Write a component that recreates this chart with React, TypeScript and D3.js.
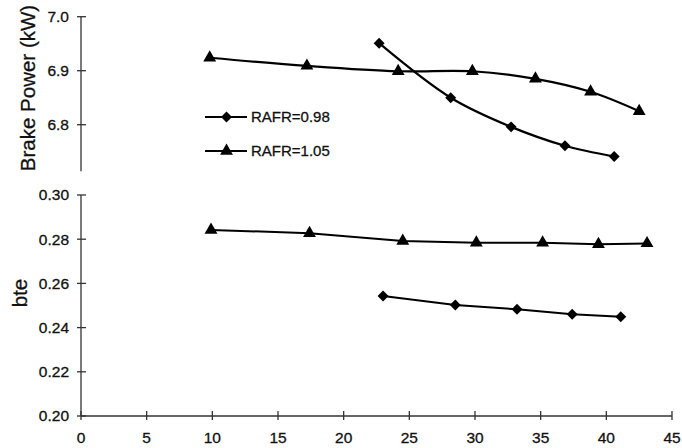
import React from "react";
import * as d3 from "d3";

const xTicks = [0, 5, 10, 15, 20, 25, 30, 35, 40, 45];
const bpTicks = [6.8, 6.9, 7.0];
const bteTicks = [0.2, 0.22, 0.24, 0.26, 0.28, 0.3];

const bpX098 = [22.7, 28.15, 32.75, 36.85, 40.6];
const bp098 = [6.951, 6.85, 6.796, 6.761, 6.741];
const bpX105 = [9.8, 17.2, 24.15, 29.8, 34.6, 38.8, 42.5];
const bp105 = [6.924, 6.909, 6.899, 6.899, 6.885, 6.861, 6.825];

const bteX098 = [23.0, 28.5, 33.2, 37.4, 41.1];
const bte098 = [0.2543, 0.2502, 0.2483, 0.246, 0.2449];
const bteX105 = [9.9, 17.4, 24.5, 30.1, 35.15, 39.4, 43.1];
const bte105 = [0.2842, 0.2827, 0.2792, 0.2784, 0.2784, 0.2777, 0.2781];

const legendLabels = ["RAFR=0.98", "RAFR=1.05"];
const bpAxisMin = 6.714;

const FONT = "Arial, 'Liberation Sans', Helvetica, sans-serif";

export default function App() {
  const W = 682, H = 448;
  const x = d3.scaleLinear().domain([0, 45]).range([81, 672]);
  const yTop = d3.scaleLinear().domain([6.7, 7.0]).range([178.7, 16.7]);
  const yBot = d3.scaleLinear().domain([0.2, 0.3]).range([416, 195]);

  const zip = (xs: number[], ys: number[]) => xs.map((v, i) => [v, ys[i]] as [number, number]);

  const lineTop = d3.line<[number, number]>().x(d => x(d[0])).y(d => yTop(d[1])).curve(d3.curveCatmullRom.alpha(0.5));
  const lineBot = d3.line<[number, number]>().x(d => x(d[0])).y(d => yBot(d[1]));

  const tri = d3.symbol().type(d3.symbolTriangle).size(72)()!;
  const dia = d3.symbol().type(d3.symbolSquare).size(60)()!;

  const marker = (kind: "tri" | "dia", cx: number, cy: number, key: string) =>
    kind === "tri" ? (
      <path key={key} d={tri} transform={`translate(${cx},${cy})`} fill="#000" />
    ) : (
      <path key={key} d={dia} transform={`translate(${cx},${cy}) rotate(45)`} fill="#000" />
    );

  const axisColor = "#333";
  const x0 = x(0);
  const txt = { fill: "#111", stroke: "#111", strokeWidth: 0.3 };

  return (
    <svg width={W} height={H} style={{ position: "absolute", left: 0, top: 0, background: "#fff" }} fontFamily={FONT}>
      {/* top y axis */}
      <line x1={x0} x2={x0} y1={yTop(7.0)} y2={yTop(bpAxisMin)} stroke={axisColor} strokeWidth={1.3} />
      {bpTicks.map(t => (
        <g key={"bt" + t}>
          <line x1={x0 - 4} x2={x0 + 5} y1={yTop(t)} y2={yTop(t)} stroke={axisColor} strokeWidth={1.3} />
          <text x={x0 - 12} y={yTop(t)} dy="0.35em" textAnchor="end" fontSize={15.5} {...txt}>{t.toFixed(1)}</text>
        </g>
      ))}
      <text transform={`translate(35,88) rotate(-90)`} textAnchor="middle" fontSize={20.5} {...txt}>Brake Power (kW)</text>

      {/* bottom y axis */}
      <line x1={x0} x2={x0} y1={yBot(0.3)} y2={yBot(0.2)} stroke={axisColor} strokeWidth={1.3} />
      {bteTicks.map(t => (
        <g key={"et" + t}>
          <line x1={x0 - 4} x2={x0 + 5} y1={yBot(t)} y2={yBot(t)} stroke={axisColor} strokeWidth={1.3} />
          <text x={x0 - 12} y={yBot(t)} dy="0.35em" textAnchor="end" fontSize={15.5} {...txt}>{t.toFixed(2)}</text>
        </g>
      ))}
      <text transform={`translate(27,293) rotate(-90)`} textAnchor="middle" fontSize={20.5} {...txt}>bte</text>

      {/* x axis */}
      <line x1={x(0)} x2={x(45)} y1={yBot(0.2)} y2={yBot(0.2)} stroke={axisColor} strokeWidth={1.3} />
      {xTicks.map(t => (
        <g key={"xt" + t}>
          <line x1={x(t)} x2={x(t)} y1={yBot(0.2) - 5} y2={yBot(0.2) + 4} stroke={axisColor} strokeWidth={1.3} />
          <text x={x(t)} y={443} textAnchor="middle" fontSize={15.5} {...txt}>{t}</text>
        </g>
      ))}

      {/* top panel series */}
      <path d={lineTop(zip(bpX105, bp105))!} fill="none" stroke="#000" strokeWidth={2.2} />
      <path d={lineTop(zip(bpX098, bp098))!} fill="none" stroke="#000" strokeWidth={2.2} />
      {zip(bpX105, bp105).map((d, i) => marker("tri", x(d[0]), yTop(d[1]), "t1" + i))}
      {zip(bpX098, bp098).map((d, i) => marker("dia", x(d[0]), yTop(d[1]), "d1" + i))}

      {/* bottom panel series */}
      <path d={lineBot(zip(bteX105, bte105))!} fill="none" stroke="#000" strokeWidth={2} />
      <path d={lineBot(zip(bteX098, bte098))!} fill="none" stroke="#000" strokeWidth={2} />
      {zip(bteX105, bte105).map((d, i) => marker("tri", x(d[0]), yBot(d[1]), "t2" + i))}
      {zip(bteX098, bte098).map((d, i) => marker("dia", x(d[0]), yBot(d[1]), "d2" + i))}

      {/* legend */}
      {legendLabels.map((lab, i) => {
        const ly = 117 + i * 34;
        return (
          <g key={lab}>
            <line x1={205} x2={247} y1={ly} y2={ly} stroke="#000" strokeWidth={2} />
            {marker(i === 0 ? "dia" : "tri", 226.5, ly, "lm" + i)}
            <text x={251} y={ly} dy="0.35em" fontSize={15} {...txt}>{lab}</text>
          </g>
        );
      })}
    </svg>
  );
}
